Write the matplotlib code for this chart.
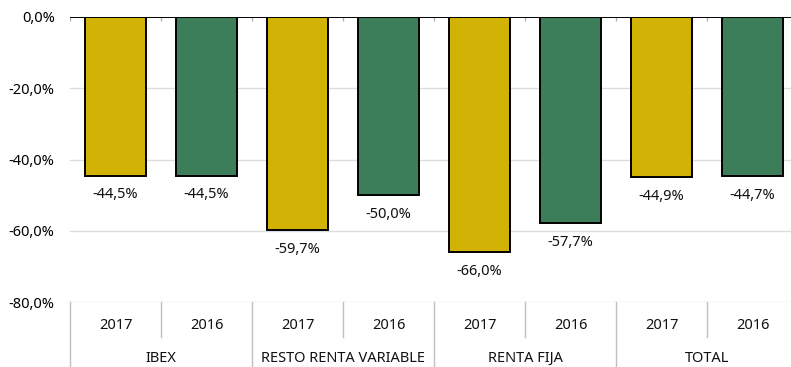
import matplotlib
matplotlib.use("Agg")
import matplotlib.pyplot as plt
from matplotlib.transforms import blended_transform_factory

plt.rcParams['font.family'] = ['Noto Sans', 'DejaVu Sans']

groups = ["IBEX", "RESTO RENTA VARIABLE", "RENTA FIJA", "TOTAL"]
years = ["2017", "2016"]
values_2017 = [-44.5, -59.7, -66.0, -44.9]
values_2016 = [-44.5, -50.0, -57.7, -44.7]
y_ticks = [0, -20, -40, -60, -80]

gold = "#D3B206"
green = "#3C7D5A"

fig = plt.figure(figsize=(7.91, 3.67), dpi=100)
ax = fig.add_axes([70 / 791, 1 - 302 / 367, 728 / 791, 285 / 367])

ax.set_ylim(-80, 0)
ax.set_xlim(0, 2 * len(groups))

labels_fs = 10.5
for gi, g in enumerate(groups):
    for yi, (vals, col) in enumerate([(values_2017, gold), (values_2016, green)]):
        x = gi * 2 + yi + 0.5
        v = vals[gi]
        ax.bar(x, v, width=0.67, color=col, edgecolor="black", linewidth=1.4, zorder=3)
        ax.annotate(f"{v:.1f}%".replace(".", ","), (x, v), xytext=(0, -14),
                    textcoords="offset points", ha="center", va="center",
                    fontsize=labels_fs, color="#111111")

# gridlines
for t in y_ticks[1:]:
    ax.axhline(t, color="#dcdcdc", lw=1.0, zorder=0)
ax.axhline(0, color="black", lw=1.4, zorder=4)

# small tick marks along the zero line
n = 2 * len(groups)
ax.vlines(range(n + 1), -1.1, 0, colors="#b0b0b0", lw=1.0, zorder=2)

ax.set_yticks(y_ticks)
ax.set_yticklabels([f"{t:.1f}%".replace(".", ",") for t in y_ticks], fontsize=labels_fs)
ax.tick_params(axis="y", length=0, pad=11)
ax.set_xticks([])
for s in ax.spines.values():
    s.set_visible(False)

# category axis below the plot
tr = blended_transform_factory(ax.transData, ax.transAxes)
for i in range(n + 1):
    bottom = -0.23 if i % 2 == 0 else -0.123
    ax.plot([i, i], [0, bottom], transform=tr, color="#c0c0c0", lw=1.0, clip_on=False)
for gi, g in enumerate(groups):
    for yi, yr in enumerate(years):
        ax.text(gi * 2 + yi + 0.5, -0.081, yr, transform=tr, ha="center", va="center",
                fontsize=labels_fs, color="#111111")
    ax.text(gi * 2 + 1, -0.198, g, transform=tr, ha="center", va="center",
            fontsize=labels_fs, color="#111111")

fig.savefig("out.png", dpi=100)
